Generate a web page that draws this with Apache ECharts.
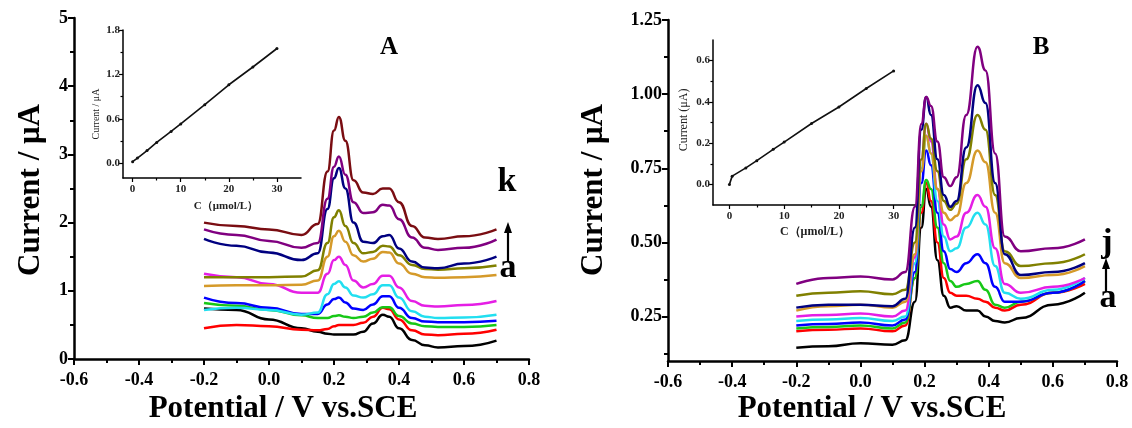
<!DOCTYPE html>
<html>
<head>
<meta charset="utf-8">
<script src="https://cdn.jsdelivr.net/npm/echarts@6/dist/echarts.min.js"></script>
<style>
html,body{margin:0;padding:0;background:#fff}
#c{width:1132px;height:428px}
</style>
</head>
<body>
<div id="c"></div>
<script>
// ---------- Panel A: DPV curves a..k (current in µA vs potential in V) ----------
const potA = [-0.2, -0.1, 0, 0.1, 0.15, 0.18, 0.2, 0.215, 0.235, 0.26, 0.29, 0.32, 0.35, 0.37, 0.4, 0.44, 0.48, 0.52, 0.6, 0.7];
const A_a = [0.74, 0.72, 0.58, 0.45, 0.40, 0.37, 0.36, 0.36, 0.36, 0.36, 0.40, 0.52, 0.65, 0.62, 0.45, 0.28, 0.20, 0.17, 0.19, 0.27];
const A_b = [0.45, 0.50, 0.48, 0.43, 0.42, 0.44, 0.48, 0.50, 0.50, 0.50, 0.53, 0.62, 0.75, 0.73, 0.58, 0.42, 0.36, 0.35, 0.37, 0.43];
const A_c = [0.82, 0.78, 0.72, 0.64, 0.60, 0.60, 0.63, 0.64, 0.62, 0.60, 0.62, 0.68, 0.76, 0.76, 0.63, 0.52, 0.48, 0.47, 0.47, 0.50];
const A_d = [0.90, 0.82, 0.75, 0.66, 0.66, 0.80, 0.88, 0.90, 0.83, 0.74, 0.72, 0.80, 0.92, 0.92, 0.75, 0.60, 0.55, 0.54, 0.54, 0.56];
const A_e = [0.72, 0.75, 0.72, 0.65, 0.68, 0.95, 1.10, 1.14, 1.05, 0.93, 0.90, 0.95, 1.08, 1.08, 0.90, 0.70, 0.62, 0.60, 0.61, 0.65];
const A_f = [1.25, 1.20, 1.10, 0.97, 0.97, 1.25, 1.45, 1.50, 1.38, 1.15, 1.05, 1.10, 1.22, 1.22, 1.05, 0.85, 0.78, 0.77, 0.79, 0.85];
const A_g = [1.07, 1.08, 1.08, 1.09, 1.15, 1.50, 1.80, 1.88, 1.72, 1.52, 1.43, 1.47, 1.57, 1.56, 1.40, 1.25, 1.20, 1.19, 1.20, 1.23];
const A_h = [1.20, 1.20, 1.20, 1.21, 1.30, 1.70, 2.08, 2.18, 1.95, 1.70, 1.55, 1.57, 1.66, 1.65, 1.52, 1.38, 1.32, 1.31, 1.33, 1.37];
const A_i = [1.76, 1.66, 1.56, 1.45, 1.55, 2.20, 2.65, 2.80, 2.50, 2.00, 1.72, 1.70, 1.80, 1.82, 1.62, 1.43, 1.34, 1.33, 1.40, 1.50];
const A_j = [1.90, 1.82, 1.73, 1.63, 1.70, 2.35, 2.82, 2.97, 2.70, 2.30, 2.14, 2.15, 2.26, 2.25, 2.05, 1.78, 1.63, 1.60, 1.63, 1.75];
const A_k = [2.00, 1.95, 1.90, 1.82, 1.98, 2.75, 3.35, 3.55, 3.20, 2.62, 2.44, 2.42, 2.50, 2.50, 2.30, 1.95, 1.78, 1.76, 1.80, 1.90];

// Panel A inset: calibration (concentration µmol/L vs peak current µA)
const concA = [0, 1, 3, 5, 8, 10, 15, 20, 25, 30];
const currA = [0.02, 0.07, 0.17, 0.28, 0.43, 0.53, 0.79, 1.06, 1.30, 1.55];

// ---------- Panel B: DPV curves a..j ----------
const potB = [-0.2, -0.1, 0, 0.1, 0.14, 0.17, 0.19, 0.205, 0.22, 0.24, 0.26, 0.28, 0.3, 0.33, 0.365, 0.39, 0.42, 0.45, 0.5, 0.6, 0.7];
const B_a = [0.145, 0.15, 0.16, 0.155, 0.17, 0.30, 0.55, 0.68, 0.62, 0.44, 0.32, 0.28, 0.285, 0.27, 0.27, 0.25, 0.235, 0.23, 0.245, 0.29, 0.33];
const B_b = [0.20, 0.205, 0.21, 0.20, 0.22, 0.38, 0.60, 0.70, 0.64, 0.50, 0.38, 0.33, 0.32, 0.32, 0.31, 0.30, 0.28, 0.27, 0.29, 0.33, 0.36];
const B_c = [0.21, 0.215, 0.22, 0.21, 0.23, 0.38, 0.62, 0.71, 0.68, 0.55, 0.43, 0.37, 0.35, 0.36, 0.37, 0.34, 0.29, 0.28, 0.30, 0.33, 0.37];
const B_d = [0.22, 0.225, 0.23, 0.22, 0.24, 0.40, 0.70, 0.81, 0.76, 0.60, 0.47, 0.41, 0.40, 0.43, 0.46, 0.43, 0.35, 0.30, 0.30, 0.33, 0.37];
const B_e = [0.235, 0.24, 0.245, 0.235, 0.25, 0.43, 0.75, 0.86, 0.80, 0.64, 0.52, 0.47, 0.48, 0.55, 0.60, 0.56, 0.42, 0.33, 0.31, 0.34, 0.38];
const B_f = [0.25, 0.255, 0.26, 0.25, 0.27, 0.45, 0.78, 0.90, 0.84, 0.68, 0.56, 0.51, 0.52, 0.60, 0.66, 0.62, 0.48, 0.36, 0.33, 0.35, 0.38];
const B_g = [0.27, 0.285, 0.29, 0.28, 0.30, 0.46, 0.74, 0.86, 0.80, 0.68, 0.60, 0.575, 0.59, 0.70, 0.81, 0.77, 0.60, 0.43, 0.38, 0.39, 0.42];
const B_h = [0.32, 0.33, 0.335, 0.325, 0.34, 0.50, 0.78, 0.90, 0.85, 0.74, 0.64, 0.61, 0.63, 0.78, 0.93, 0.88, 0.66, 0.47, 0.42, 0.43, 0.46];
const B_i = [0.28, 0.29, 0.29, 0.285, 0.31, 0.55, 0.88, 0.99, 0.93, 0.78, 0.66, 0.62, 0.64, 0.82, 1.03, 0.97, 0.70, 0.46, 0.39, 0.40, 0.43];
const B_j = [0.36, 0.38, 0.385, 0.375, 0.40, 0.62, 0.90, 0.99, 0.96, 0.84, 0.72, 0.69, 0.72, 0.93, 1.16, 1.08, 0.80, 0.52, 0.47, 0.48, 0.51];

// Panel B inset: calibration
const concB = [0, 0.5, 3, 5, 8, 10, 15, 20, 25, 30];
const currB = [0.00, 0.04, 0.08, 0.115, 0.17, 0.205, 0.295, 0.375, 0.465, 0.55];

// Tick label sets
const curTicksB = [0.25, 0.5, 0.75, 1.0, 1.25];
const curMinorB = [0.125, 0.375, 0.625, 0.875, 1.125];
const concTicks = [0, 10, 20, 30];
const concMinor = [5, 15, 25];
const insetYTicksA = [0, 0.6, 1.2, 1.8];
const insetYMinorA = [0.3, 0.9, 1.5];
const insetYTicksB = [0, 0.2, 0.4, 0.6];
const insetYMinorB = [0.1, 0.3, 0.5];

// ---------- styling ----------
const serif = 'Liberation Serif';
const colorsA = ['#000000', '#ff0000', '#17c817', '#0000ff', '#22dff0', '#e51ee5', '#d59a2a', '#808000', '#000080', '#800080', '#7a0d12'];
const colorsB = ['#000000', '#ff0000', '#17c817', '#0000ff', '#22dff0', '#e51ee5', '#d59a2a', '#808000', '#000080', '#800080'];
const curvesA = [A_a, A_b, A_c, A_d, A_e, A_f, A_g, A_h, A_i, A_j, A_k];
const curvesB = [B_a, B_b, B_c, B_d, B_e, B_f, B_g, B_h, B_i, B_j];
const names = ['a','b','c','d','e','f','g','h','i','j','k'];

const tickStyle = (w) => ({ color: '#000', width: w });
// tick labels use rich text so their font is set explicitly
const mainLabel = (fmt, extra) => Object.assign({
  color: '#000', fontFamily: serif, fontWeight: 'bold', fontSize: 18, lineHeight: 20, margin: 6,
  formatter: (v) => '{m|' + fmt(v) + '}',
  rich: { m: { fontFamily: serif, fontWeight: 'bold', fontSize: 18, color: '#000' } }
}, extra || {});
const insetLabel = (fmt, extra) => Object.assign({
  color: '#222', fontFamily: serif, fontWeight: 'bold', fontSize: 11, margin: 4,
  formatter: (v) => '{s|' + fmt(v) + '}',
  rich: { s: { fontFamily: serif, fontWeight: 'bold', fontSize: 11, color: '#222' } }
}, extra || {});
const fix = (d) => (v) => (Math.abs(v) < 1e-9 ? 0 : v).toFixed(d);
const hiddenAxisExtras = { axisLine: { show: false, onZero: false }, axisLabel: { show: false }, splitLine: { show: false } };

const grids = [
  { left: 74, top: 18, width: 455, height: 341 },   // main A
  { left: 668, top: 20, width: 449, height: 341 },  // main B
  { left: 123, top: 30, width: 178, height: 148 },  // inset A
  { left: 713, top: 40, width: 208, height: 165 }   // inset B
];

const mainX = (g) => ({
  gridIndex: g, type: 'value', min: -0.6, max: 0.8, interval: 0.2, position: 'bottom',
  axisLine: { onZero: false, lineStyle: tickStyle(2.5) },
  axisTick: { length: 6, lineStyle: tickStyle(2) },
  minorTick: { show: true, splitNumber: 2, length: 4, lineStyle: tickStyle(2) },
  axisLabel: mainLabel(fix(1), { margin: 11 }), splitLine: { show: false }
});
const insetX = (g, lo, hi) => ({
  gridIndex: g, type: 'value', min: lo, max: hi, position: 'bottom',
  axisLine: { onZero: false, lineStyle: tickStyle(1.5) },
  axisTick: { length: 4, customValues: concTicks, lineStyle: tickStyle(1.2) },
  axisLabel: insetLabel(fix(0), { customValues: concTicks, margin: 6 }), splitLine: { show: false }
});
const minorX = (g, lo, hi, vals) => Object.assign({
  gridIndex: g, type: 'value', min: lo, max: hi, position: 'bottom',
  axisTick: { show: true, length: 2.5, customValues: vals, lineStyle: tickStyle(1.2) }
}, hiddenAxisExtras);
const minorY = (g, lo, hi, vals, len, w) => Object.assign({
  gridIndex: g, type: 'value', min: lo, max: hi, position: 'left',
  axisTick: { show: true, length: len, customValues: vals, lineStyle: tickStyle(w) }
}, hiddenAxisExtras);

const xAxes = [
  mainX(0),
  mainX(1),
  insetX(2, -2, 35),
  minorX(2, -2, 35, concMinor),
  insetX(3, -3, 35),
  minorX(3, -3, 35, concMinor)
];

const yAxes = [
  { gridIndex: 0, type: 'value', min: 0, max: 5, interval: 1, position: 'left',
    axisLine: { show: true, onZero: false, lineStyle: tickStyle(2.5) },
    axisTick: { show: true, length: 6, lineStyle: tickStyle(2) },
    minorTick: { show: true, splitNumber: 2, length: 4, lineStyle: tickStyle(2) },
    axisLabel: mainLabel(fix(0)), splitLine: { show: false } },
  { gridIndex: 1, type: 'value', min: 0.1, max: 1.25, position: 'left',
    axisLine: { show: true, onZero: false, lineStyle: tickStyle(2.5) },
    axisTick: { show: true, length: 6, customValues: curTicksB, lineStyle: tickStyle(2) },
    axisLabel: mainLabel(fix(2), { customValues: curTicksB }), splitLine: { show: false } },
  minorY(1, 0.1, 1.25, curMinorB, 4, 2),
  { gridIndex: 2, type: 'value', min: -0.2, max: 1.8, position: 'left',
    axisLine: { show: true, onZero: false, lineStyle: tickStyle(1.5) },
    axisTick: { show: true, length: 4, customValues: insetYTicksA, lineStyle: tickStyle(1.2) },
    axisLabel: insetLabel(fix(1), { customValues: insetYTicksA, margin: 3 }), splitLine: { show: false } },
  minorY(2, -0.2, 1.8, insetYMinorA, 2.5, 1.2),
  { gridIndex: 3, type: 'value', min: -0.1, max: 0.7, position: 'left',
    axisLine: { show: true, onZero: false, lineStyle: tickStyle(1.5) },
    axisTick: { show: true, length: 4, customValues: insetYTicksB, lineStyle: tickStyle(1.2) },
    axisLabel: insetLabel(fix(1), { customValues: insetYTicksB, margin: 3 }), splitLine: { show: false } },
  minorY(3, -0.1, 0.7, insetYMinorB, 2.5, 1.2)
];

const series = [];
curvesA.forEach((vals, k) => {
  series.push({
    name: 'A-' + names[k], type: 'line', xAxisIndex: 0, yAxisIndex: 0,
    data: potA.map((p, i) => [p, vals[i]]),
    showSymbol: false, smooth: 0.5, smoothMonotone: 'x',
    lineStyle: { color: colorsA[k], width: 2.5 }, z: 3
  });
});
curvesB.forEach((vals, k) => {
  series.push({
    name: 'B-' + names[k], type: 'line', xAxisIndex: 1, yAxisIndex: 1,
    data: potB.map((p, i) => [p, vals[i]]),
    showSymbol: false, smooth: 0.5, smoothMonotone: 'x',
    lineStyle: { color: colorsB[k], width: 2.5 }, z: 3
  });
});
series.push({
  name: 'fitA', type: 'line', xAxisIndex: 2, yAxisIndex: 3,
  data: concA.map((c, i) => [c, currA[i]]),
  symbol: 'circle', symbolSize: 3, itemStyle: { color: '#111' },
  lineStyle: { color: '#111', width: 1.6 }, z: 2
});
series.push({
  name: 'fitB', type: 'line', xAxisIndex: 4, yAxisIndex: 5,
  data: concB.map((c, i) => [c, currB[i]]),
  symbol: 'circle', symbolSize: 3, itemStyle: { color: '#111' },
  lineStyle: { color: '#111', width: 1.6 }, z: 2
});

const txt = (x, y, text, size, opts) => Object.assign({
  type: 'text', x: x, y: y, z: 10,
  style: Object.assign({ text: text, fill: '#000', fontFamily: serif, fontWeight: 'bold', fontSize: size,
    textAlign: 'center', textVerticalAlign: 'middle' }, (opts && opts.style) || {})
}, opts && opts.rotation ? { rotation: opts.rotation } : {});

const arrow = (x, yTop, yBottom) => ([
  { type: 'line', z: 10, shape: { x1: x, y1: yBottom, x2: x, y2: yTop + 8 }, style: { stroke: '#000', lineWidth: 2.2 } },
  { type: 'polygon', z: 10, shape: { points: [[x, yTop], [x - 4, yTop + 11], [x + 4, yTop + 11]] }, style: { fill: '#000' } }
]);

const graphics = [
  txt(31, 190, 'Current / μA', 31, { rotation: Math.PI / 2 }),
  txt(594, 190, 'Current / μA', 31, { rotation: Math.PI / 2 }),
  txt(283, 409, 'Potential / V vs.SCE', 31),
  txt(872, 409, 'Potential / V vs.SCE', 31),
  txt(389, 48, 'A', 25),
  txt(1041, 48, 'B', 25),
  txt(507, 182, 'k', 34),
  txt(508, 268, 'a', 34),
  txt(1107, 243, 'j', 34),
  txt(1108, 298, 'a', 34),
  txt(96, 114, 'Current / μA', 10, { rotation: Math.PI / 2, style: { fontWeight: 'normal', fill: '#222' } }),
  txt(226, 206, 'C（μmol/L）', 11, { style: { fill: '#222' } }),
  txt(684, 120, 'Current (μA)', 12, { rotation: Math.PI / 2, style: { fontWeight: 'normal', fill: '#222' } }),
  txt(815, 232, 'C（μmol/L）', 12, { style: { fill: '#222' } })
].concat(arrow(508, 222, 262), arrow(1106, 258, 292));

const chart = echarts.init(document.getElementById('c'), null, { renderer: 'canvas' });
chart.setOption({
  backgroundColor: '#ffffff',
  animation: false,
  textStyle: { fontFamily: serif },
  grid: grids,
  xAxis: xAxes,
  yAxis: yAxes,
  series: series,
  graphic: graphics
});
</script>
</body>
</html>
